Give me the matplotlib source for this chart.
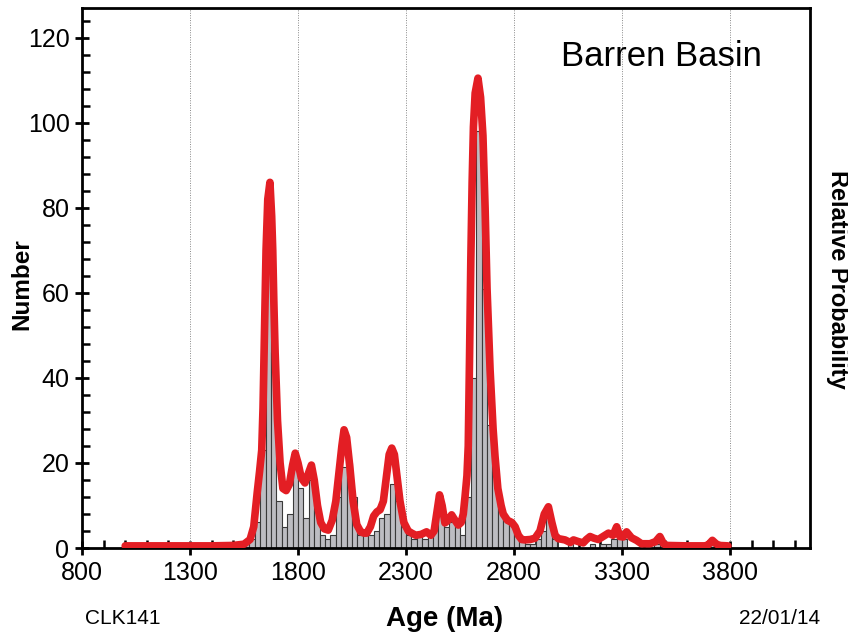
import numpy as np
import matplotlib
matplotlib.use("Agg")
import matplotlib.pyplot as plt
from matplotlib.ticker import MultipleLocator

plt.rcParams['font.family'] = ['Liberation Sans', 'DejaVu Sans']

# histogram, 25 Ma bins (left edge, count)
bin_left = [1550, 1575, 1600, 1625, 1650, 1675, 1700, 1725, 1750, 1775,
            1800, 1825, 1850, 1875, 1900, 1925, 1950, 1975, 2000, 2025,
            2050, 2075, 2100, 2125, 2150, 2175, 2200, 2225, 2250, 2275,
            2300, 2325, 2350, 2375, 2400, 2425, 2450, 2475, 2500, 2525,
            2550, 2575, 2600, 2625, 2650, 2675, 2700, 2725, 2750, 2775,
            2800, 2825, 2850, 2875, 2900, 2925, 2950, 2975, 3050, 3150,
            3200, 3225, 3250, 3275, 3300, 3450, 3700]
counts = [1, 2, 6, 23, 77, 46, 11, 5, 8, 19,
          14, 7, 16, 9, 3, 2, 3, 12, 19, 20,
          12, 3, 3, 3, 4, 7, 8, 15, 11, 5,
          3, 2, 3, 2, 3, 7, 10, 5, 6, 5,
          3, 12, 40, 98, 61, 29, 18, 10, 7, 6,
          4, 2, 1, 1, 2, 4, 7, 2, 1, 1,
          1, 1, 2, 3, 2, 1, 1]

# relative probability curve (scaled to Number axis)
curve_age = [1000, 1200, 1400, 1500, 1550, 1578, 1595, 1611, 1622, 1632,
             1638, 1643, 1648, 1652, 1660, 1670, 1678, 1683, 1688, 1694,
             1705, 1717, 1730, 1745, 1760, 1775, 1787, 1800, 1815, 1832,
             1848, 1862, 1875, 1890, 1905, 1922, 1940, 1958, 1975, 1990,
             2003, 2013, 2025, 2040, 2055, 2072, 2090, 2105, 2118, 2135,
             2150, 2165, 2180, 2195, 2210, 2222, 2234, 2246, 2258, 2272,
             2290, 2310, 2326, 2345, 2370, 2395, 2415, 2430, 2442, 2455,
             2467, 2480, 2495, 2511, 2527, 2542, 2555, 2565, 2573, 2582,
             2588, 2594, 2600, 2606, 2612, 2620, 2633, 2645, 2656, 2666,
             2675, 2689, 2703, 2712, 2725, 2740, 2750, 2770, 2790, 2805,
             2820, 2835, 2851, 2875, 2897, 2920, 2940, 2959, 2975, 2990,
             3005, 3036, 3060, 3075, 3098, 3120, 3135, 3152, 3170, 3190,
             3215, 3237, 3258, 3275, 3290, 3305, 3321, 3344, 3367, 3390,
             3429, 3455, 3475, 3492, 3506, 3600, 3685, 3700, 3718, 3735,
             3750, 3790]
curve_val = [0.5, 0.5, 0.5, 0.6, 0.9, 2, 5, 13, 18, 23,
             33, 46, 58, 70, 82, 86, 78, 70, 58, 46,
             30, 20, 14, 13.5, 15, 19.5, 22.3, 20, 16.5, 15.3,
             17.5, 19.5, 16, 10, 6, 4.5, 4.2, 6.5, 11, 18,
             24, 27.8, 26, 19, 11, 5.5, 3.8, 3.5, 3.5, 5,
             7.5, 8.5, 9, 11, 17, 22, 23.5, 22, 17, 11,
             6, 4, 3.5, 3, 3.2, 3.8, 3, 4, 8, 12.5,
             10, 5.9, 6.5, 7.8, 6.5, 5.4, 6, 8, 12, 17,
             24, 45, 68, 86, 99, 107, 110.5, 106, 97, 80,
             61, 42, 28, 21.5, 14, 10, 8, 6.5, 6, 5,
             3, 2, 1.9, 2, 2.3, 4, 8, 9.7, 6, 3,
             2.2, 1.9, 1.3, 1.9, 1.5, 1.2, 2, 2.7, 2.3, 2,
             2.8, 3.5, 3, 5, 2.7, 2.6, 3.8, 2.4, 1.8, 1,
             1, 1.5, 2.7, 1, 0.6, 0.5, 0.5, 0.8, 1.8, 1,
             0.6, 0.5]

x_major = [800, 1300, 1800, 2300, 2800, 3300, 3800]

fig = plt.figure(figsize=(8.48, 6.35), dpi=100)
ax = fig.add_axes([82 / 848, 1 - 548 / 635, (810 - 82) / 848, (548 - 8) / 635])

ax.bar(bin_left, counts, width=25, align='edge', color='#bdbdc2',
       edgecolor='#3a3a3a', linewidth=0.8, zorder=2)
ax.plot(curve_age, curve_val, color='#e31e24', lw=5.5, solid_capstyle='round',
        solid_joinstyle='round', zorder=3)

for g in x_major[1:]:
    ax.axvline(g, color='#888888', lw=0.7, ls=(0, (1, 1.5)), zorder=1)

ax.set_xlim(800, 4170)
ax.set_ylim(0, 127)
ax.set_xticks(x_major)
ax.xaxis.set_minor_locator(MultipleLocator(100))
ax.yaxis.set_major_locator(MultipleLocator(20))
ax.yaxis.set_minor_locator(MultipleLocator(4))

for s in ax.spines.values():
    s.set_linewidth(2)
ax.tick_params(which='major', direction='inout', length=10, width=2,
               labelsize=18, pad=4)
ax.tick_params(which='minor', direction='in', length=6, width=1.8)
ax.tick_params(top=False, right=False, which='both')

fig.text(22 / 848, 1 - 284 / 635, 'Number', rotation=90, fontsize=17.5,
         fontweight='bold', ha='center', va='center')
fig.text(838 / 848, 1 - 279 / 635, 'Relative Probability', rotation=-90,
         fontsize=17, fontweight='bold', ha='center', va='center')
fig.text(445 / 848, 1 - 619 / 635, 'Age (Ma)', fontsize=20, fontweight='bold',
         ha='center', va='center')
fig.text(123 / 848, 1 - 619 / 635, 'CLK141', fontsize=15, ha='center', va='center')
fig.text(780 / 848, 1 - 619 / 635, '22/01/14', fontsize=15, ha='center', va='center')
fig.text(661 / 848, 1 - 57 / 635, 'Barren Basin', fontsize=25,
         ha='center', va='center')

fig.savefig('out.png', dpi=100)
